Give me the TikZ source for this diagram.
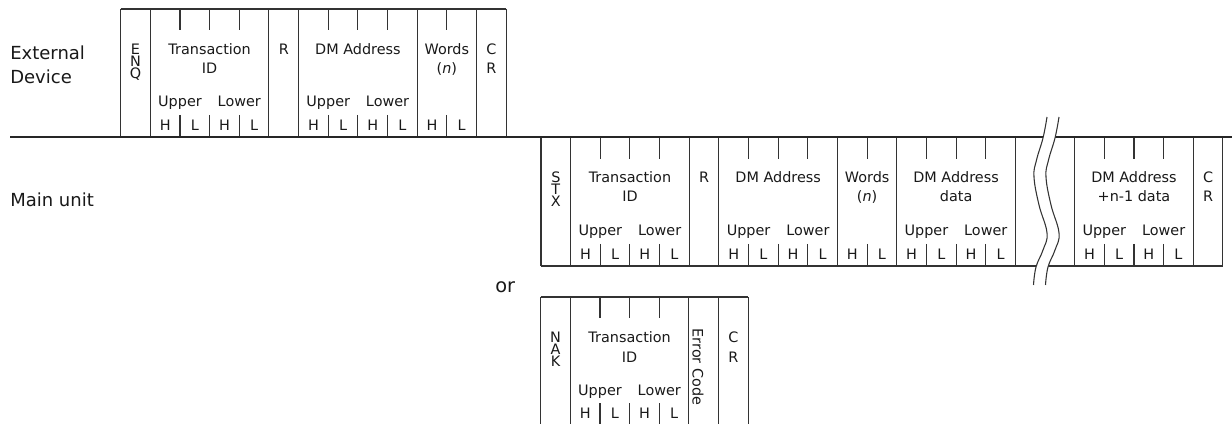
\documentclass[tikz,border=0pt]{standalone}
\usepackage{fontspec}
\setmainfont{DejaVu Sans}
\begin{document}
\begin{tikzpicture}[x=0.75pt,y=-0.75pt,
  cellline/.style={line width=0.8pt, draw=black!80},
  mainline/.style={line width=1.8pt, draw=black!85},
  txt/.style={font=\fontsize{10.8}{12}\selectfont, inner sep=0pt, anchor=base, text=black!90},
  lbl/.style={font=\fontsize{13.5}{16}\selectfont, inner sep=0pt, anchor=base west, text=black!90},
  wave/.style={line width=0.8pt, draw=black!80}]
\useasboundingbox (0,0) rectangle (1232,424);
\def\W{29.65}
\def\xa{120.7}
\def\xb{541}
\def\xc{540.7}
% ---------- labels ----------
\node[lbl] (ext1) at (10,60) {External};
\node[lbl] (ext2) at (10,83.5) {Device};
\node[lbl] (main) at (10,207) {Main unit};
\node[lbl, font=\fontsize{14.5}{16}\selectfont] (or) at (495,292) {or};
% ---------- top block (External Device) T=9, B=137 ----------
\draw[cellline] (\xa,9) -- ({\xa+13*\W},9);
\foreach \i in {0,1,5,6,10,12,13}
  \draw[cellline] ({\xa+\i*\W},9) -- ({\xa+\i*\W},137);
\foreach \i in {2,3,4,7,8,9,11}{
  \draw[cellline] ({\xa+\i*\W},9) -- ({\xa+\i*\W},30);
  \draw[cellline] ({\xa+\i*\W},115) -- ({\xa+\i*\W},137);}
\node[txt] (a-e) at ({\xa+0.5*\W},55) {E};
\node[txt] (a-n) at ({\xa+0.5*\W},67) {N};
\node[txt] (a-q) at ({\xa+0.5*\W},79) {Q};
\node[txt] (a-tid1) at ({\xa+3*\W},55) {Transaction};
\node[txt] (a-tid2) at ({\xa+3*\W},74) {ID};
\node[txt] (a-r) at ({\xa+5.5*\W},55) {R};
\node[txt] (a-dm) at ({\xa+8*\W},55) {DM Address};
\node[txt] (a-w1) at ({\xa+11*\W},55) {Words};
\node[txt] (a-w2) at ({\xa+11*\W},74) {(\textit{n})};
\node[txt] (a-c) at ({\xa+12.5*\W},55) {C};
\node[txt] (a-r2) at ({\xa+12.5*\W},74) {R};
\foreach \i/\t [count=\k] in {2/Upper,4/Lower,7/Upper,9/Lower}
  \node[txt] (a-ul\k) at ({\xa+\i*\W},107) {\t};
\foreach \i/\t [count=\k] in {1.5/H,2.5/L,3.5/H,4.5/L,6.5/H,7.5/L,8.5/H,9.5/L,10.5/H,11.5/L}
  \node[txt] (a-hl\k) at ({\xa+\i*\W},131) {\t};
% ---------- bottom block (Main unit) T=137, B=266 ----------
\draw[cellline] (\xb,266) -- ({\xb+23*\W},266);
\foreach \i in {0,1,5,6,10,12,16,18,22,23}
  \draw[cellline] ({\xb+\i*\W},137) -- ({\xb+\i*\W},266);
\foreach \i in {2,3,4,7,8,9,11,13,14,15,19,20,21}{
  \draw[cellline] ({\xb+\i*\W},137) -- ({\xb+\i*\W},159);
  \draw[cellline] ({\xb+\i*\W},244) -- ({\xb+\i*\W},266);}
\node[txt] (b-s) at ({\xb+0.5*\W},183) {S};
\node[txt] (b-t) at ({\xb+0.5*\W},195) {T};
\node[txt] (b-x) at ({\xb+0.5*\W},207) {X};
\node[txt] (b-tid1) at ({\xb+3*\W},183) {Transaction};
\node[txt] (b-tid2) at ({\xb+3*\W},202) {ID};
\node[txt] (b-r) at ({\xb+5.5*\W},183) {R};
\node[txt] (b-dm) at ({\xb+8*\W},183) {DM Address};
\node[txt] (b-w1) at ({\xb+11*\W},183) {Words};
\node[txt] (b-w2) at ({\xb+11*\W},202) {(\textit{n})};
\node[txt] (b-dd1) at ({\xb+14*\W},183) {DM Address};
\node[txt] (b-dd2) at ({\xb+14*\W},202) {data};
\node[txt] (b-dn1) at ({\xb+20*\W},183) {DM Address};
\node[txt] (b-dn2) at ({\xb+20*\W},202) {+n-1 data};
\node[txt] (b-c) at ({\xb+22.5*\W},183) {C};
\node[txt] (b-r2) at ({\xb+22.5*\W},202) {R};
\foreach \i/\t [count=\k] in {2/Upper,4/Lower,7/Upper,9/Lower,13/Upper,15/Lower,19/Upper,21/Lower}
  \node[txt] (b-ul\k) at ({\xb+\i*\W},235) {\t};
\foreach \i/\t [count=\k] in {1.5/H,2.5/L,3.5/H,4.5/L,6.5/H,7.5/L,8.5/H,9.5/L,10.5/H,11.5/L,12.5/H,13.5/L,14.5/H,15.5/L,18.5/H,19.5/L,20.5/H,21.5/L}
  \node[txt] (b-hl\k) at ({\xb+\i*\W},259) {\t};
% ---------- NAK block T=297 ----------
\draw[cellline] (\xc,297) -- ({\xc+7*\W},297);
\foreach \i in {0,1,5,6,7}
  \draw[cellline] ({\xc+\i*\W},297) -- ({\xc+\i*\W},424);
\foreach \i in {2,3,4}{
  \draw[cellline] ({\xc+\i*\W},297) -- ({\xc+\i*\W},318);
  \draw[cellline] ({\xc+\i*\W},403) -- ({\xc+\i*\W},424);}
\node[txt] (c-n) at ({\xc+0.5*\W},342) {N};
\node[txt] (c-a) at ({\xc+0.5*\W},354) {A};
\node[txt] (c-k) at ({\xc+0.5*\W},366) {K};
\node[txt] (c-tid1) at ({\xc+3*\W},342) {Transaction};
\node[txt] (c-tid2) at ({\xc+3*\W},362) {ID};
\node[txt, anchor=center, rotate=-90] (c-err) at (698,367) {Error Code};
\node[txt] (c-c) at ({\xc+6.5*\W},342) {C};
\node[txt] (c-r) at ({\xc+6.5*\W},362) {R};
\foreach \i/\t [count=\k] in {2/Upper,4/Lower}
  \node[txt] (c-ul\k) at ({\xc+\i*\W},395) {\t};
\foreach \i/\t [count=\k] in {1.5/H,2.5/L,3.5/H,4.5/L}
  \node[txt] (c-hl\k) at ({\xc+\i*\W},418) {\t};
% ---------- main separator line ----------
\draw[mainline] (10,137) -- (1232,137);
% ---------- break symbol ----------
\fill[white] plot[smooth, tension=0.7] coordinates {(1047,117) (1043,138) (1036.5,160) (1034,177) (1039,205) (1047,233) (1043,250) (1036,267) (1033.5,285)}
  -- plot[smooth, tension=0.7] coordinates {(1045.5,285) (1048,267) (1055,250) (1059,233) (1051,205) (1046,177) (1048.5,160) (1055,138) (1059,117)} -- cycle;
\draw[wave] plot[smooth, tension=0.7] coordinates {(1047,117) (1043,138) (1036.5,160) (1034,177) (1039,205) (1047,233) (1043,250) (1036,267) (1033.5,285)};
\draw[wave] plot[smooth, tension=0.7] coordinates {(1059,117) (1055,138) (1048.5,160) (1046,177) (1051,205) (1059,233) (1055,250) (1048,267) (1045.5,285)};
\end{tikzpicture}
\end{document}
